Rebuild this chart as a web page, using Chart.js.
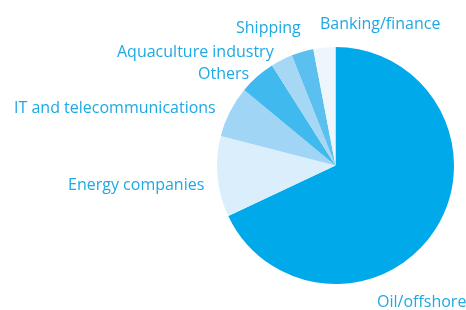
<!DOCTYPE html>
<html>
<head>
<meta charset="utf-8">
<script src="https://cdn.jsdelivr.net/npm/chart.js@4"></script>
<style>
  html, body { margin: 0; padding: 0; background: #fff; }
  #wrap { width: 466px; height: 310px; position: relative; }
</style>
</head>
<body>
<div id="wrap"><canvas id="myChart" width="466" height="310"></canvas></div>
<script>
const sectors = [
  "Oil/offshore",
  "Energy companies",
  "IT and telecommunications",
  "Others",
  "Aquaculture industry",
  "Shipping",
  "Banking/finance",
];
const shares = [68, 11, 7, 5, 3, 3, 3];
const sliceColors = [
  "#00a9e9",
  "#dbeefb",
  "#a1d5f5",
  "#3fb9ee",
  "#a6d8f5",
  "#5bc0ef",
  "#eef6fd",
];

// where each label sits (left x, middle y)
const labelSpots = [
  [377, 302],
  [68, 185],
  [14, 108],
  [198, 74],
  [117, 52],
  [236, 28],
  [320, 24],
];

const labelPlugin = {
  id: "sectorLabels",
  afterDraw(chart) {
    const ctx = chart.ctx;
    ctx.save();
    ctx.font = "16px 'Open Sans'";
    ctx.fillStyle = "#1ea8e4";
    ctx.textAlign = "left";
    ctx.textBaseline = "middle";
    chart.data.labels.forEach((label, i) => {
      const [x, y] = labelSpots[i];
      ctx.fillText(label, x, y);
    });
    ctx.restore();
  },
};

new Chart(document.getElementById("myChart").getContext("2d"), {
  type: "pie",
  data: {
    labels: sectors,
    datasets: [
      {
        data: shares,
        backgroundColor: sliceColors,
        borderWidth: 0,
      },
    ],
  },
  options: {
    responsive: false,
    animation: false,
    layout: { padding: { left: 217, right: 12, top: 47, bottom: 26 } },
    plugins: {
      legend: { display: false },
      tooltip: { enabled: false },
    },
  },
  plugins: [labelPlugin],
});
</script>
</body>
</html>
